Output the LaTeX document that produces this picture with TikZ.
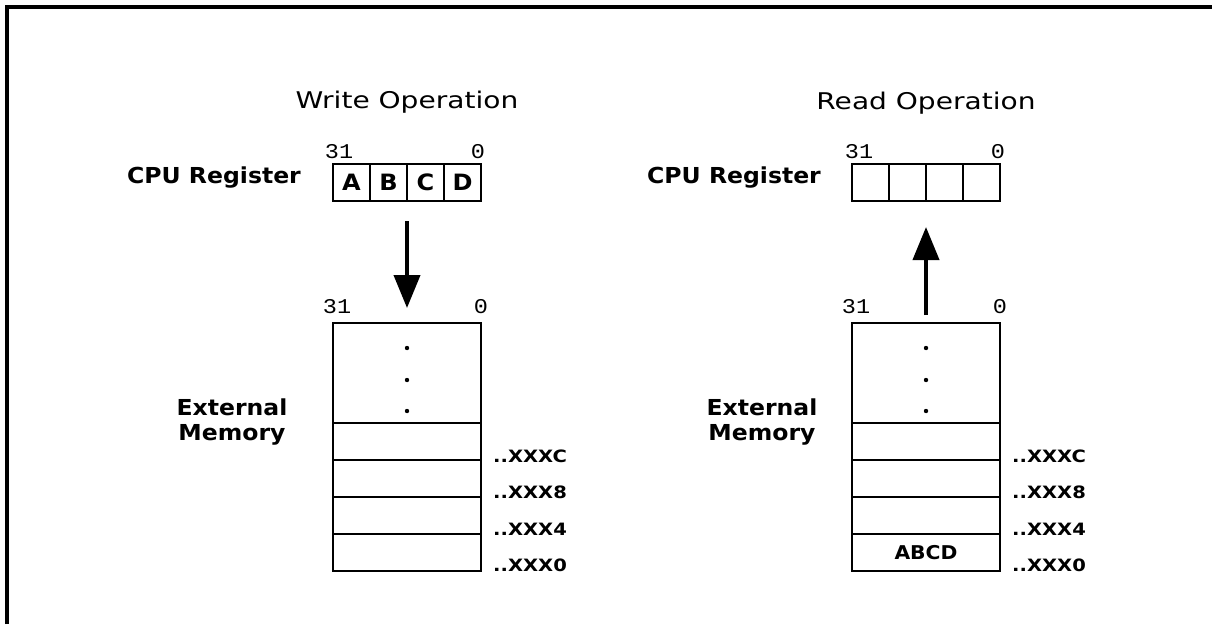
\documentclass[tikz,border=0pt]{standalone}
\usepackage{fontspec}
\usetikzlibrary{arrows.meta}
\newfontfamily\regf[FakeStretch=1.22]{DejaVu Sans}
\newfontfamily\boldf[FakeStretch=1.07]{DejaVu Sans}
\newfontfamily\addrf[FakeStretch=1.15]{DejaVu Sans}
\newfontfamily\numf[FakeStretch=1.12]{Liberation Mono}
\tikzset{
  title/.style={font=\regf\fontsize{23}{27}\selectfont, anchor=base, inner sep=0pt},
  lbl/.style={font=\boldf\bfseries\fontsize{22}{26}\selectfont, anchor=base, inner sep=0pt},
  bitnum/.style={font=\numf\fontsize{21}{24}\selectfont, anchor=base, inner sep=0pt},
  addr/.style={font=\addrf\bfseries\fontsize{17}{20}\selectfont, anchor=base west, inner sep=0pt},
  cell/.style={draw, line width=1.5pt, minimum width=37pt, minimum height=37pt, inner sep=0pt, outer sep=0pt,
               font=\boldf\bfseries\fontsize{22.5}{26}\selectfont},
  row/.style={draw, line width=1.5pt, minimum width=148pt, minimum height=37pt, inner sep=0pt, outer sep=0pt,
              font=\boldf\bfseries\fontsize{19}{22}\selectfont},
  toprow/.style={row, minimum height=100pt},
  bigarrow/.style={line width=4pt, -{Triangle[length=33pt,width=26pt]}},
  dotmark/.style={fill=black}
}
\begin{document}
\begin{tikzpicture}[x=1pt,y=-1pt]
\useasboundingbox (0,0) rectangle (1212,624);
% frame
\draw[line width=3.2pt] (7,624) -- (7,7) -- (1212,7);

% ===== Write operation =====
\node[title] (wtitle) at (407,108) {Write Operation};
\node[lbl] (wcpu) at (214,183) {CPU Register};
\node[bitnum] (wr31) at (339,158) {31};
\node[bitnum] (wr0) at (478,158) {0};
\node[cell] (wA) at (351.5,182.5) {A};
\node[cell] (wB) at (388.5,182.5) {B};
\node[cell] (wC) at (425.5,182.5) {C};
\node[cell] (wD) at (462.5,182.5) {D};
\coordinate (wregbot) at (407,201);

\node[bitnum] (wm31) at (337,313) {31};
\node[bitnum] (wm0) at (481,313) {0};
\node[toprow] (wtop) at (407,373) {};
\node[row] (wrC) at (407,441.5) {};
\node[row] (wr8) at (407,478.5) {};
\node[row] (wr4) at (407,515.5) {};
\node[row] (wr0r) at (407,552.5) {};
\fill[dotmark] (407,348) circle (2.2);
\fill[dotmark] (407,380) circle (2.2);
\fill[dotmark] (407,411) circle (2.2);
\node[lbl] (wext1) at (232,415) {External};
\node[lbl] (wext2) at (232,440) {Memory};
\node[addr] (waC) at (493,462) {..XXXC};
\node[addr] (wa8) at (493,498) {..XXX8};
\node[addr] (wa4) at (493,535) {..XXX4};
\node[addr] (wa0) at (493,571) {..XXX0};
\draw[bigarrow, shorten <=20pt, shorten >=15pt] (wregbot) -- (wtop.north);

% ===== Read operation =====
\node[title] (rtitle) at (926,109) {Read Operation};
\node[lbl] (rcpu) at (734,183) {CPU Register};
\node[bitnum] (rr31) at (859,158) {31};
\node[bitnum] (rr0) at (998,158) {0};
\node[cell] (rA) at (870.5,182.5) {};
\node[cell] (rB) at (907.5,182.5) {};
\node[cell] (rC) at (944.5,182.5) {};
\node[cell] (rD) at (981.5,182.5) {};
\coordinate (rregbot) at (926,201);

\node[bitnum] (rm31) at (856,313) {31};
\node[bitnum] (rm0) at (1000,313) {0};
\node[toprow] (rtop) at (926,373) {};
\node[row] (rrC) at (926,441.5) {};
\node[row] (rr8) at (926,478.5) {};
\node[row] (rr4) at (926,515.5) {};
\node[row] (rr0r) at (926,552.5) {ABCD};
\fill[dotmark] (926,348) circle (2.2);
\fill[dotmark] (926,380) circle (2.2);
\fill[dotmark] (926,411) circle (2.2);
\node[lbl] (rext1) at (762,415) {External};
\node[lbl] (rext2) at (762,440) {Memory};
\node[addr] (raC) at (1012,462) {..XXXC};
\node[addr] (ra8) at (1012,498) {..XXX8};
\node[addr] (ra4) at (1012,535) {..XXX4};
\node[addr] (ra0) at (1012,571) {..XXX0};
\draw[bigarrow, shorten <=8pt, shorten >=26pt] (rtop.north) -- (rregbot);
\end{tikzpicture}
\end{document}
